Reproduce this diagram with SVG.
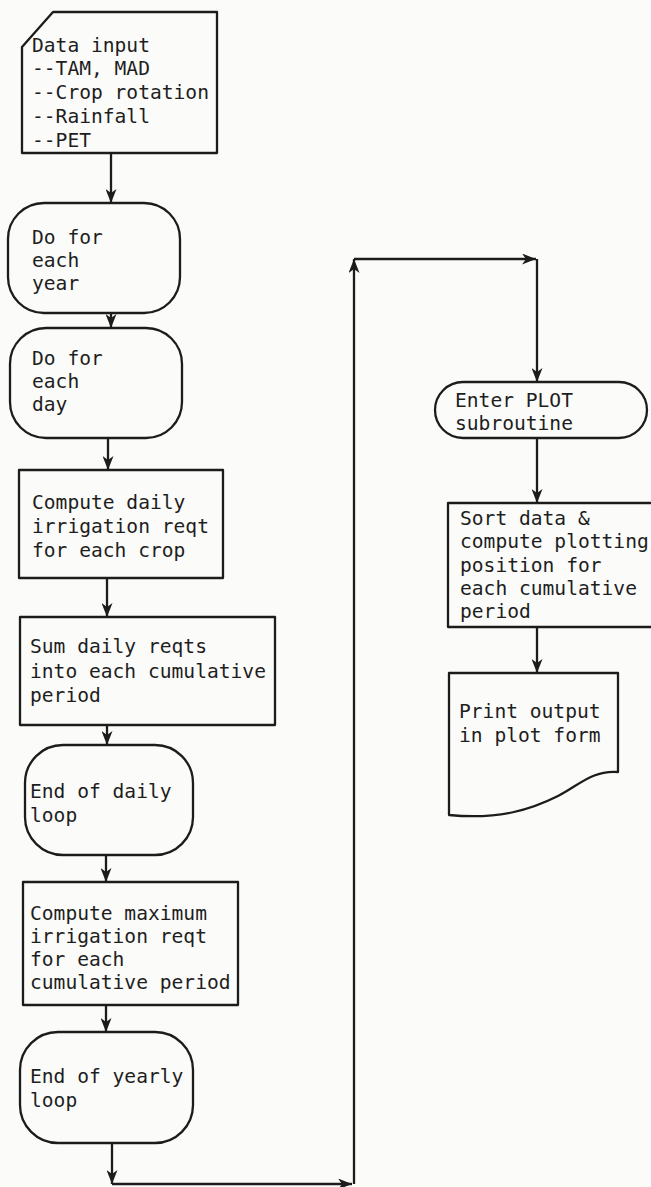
<svg xmlns="http://www.w3.org/2000/svg" width="651" height="1187" viewBox="0 0 651 1187">
  <style>
    .shape { fill: none; stroke: #1c1c1c; stroke-width: 2.3; stroke-linejoin: round; }
    .flow { fill: none; stroke: #1c1c1c; stroke-width: 2.3; marker-end: url(#arrow); }
    text { font-family: "DejaVu Sans Mono", "Liberation Mono", monospace; font-size: 19.6px; fill: #1e1e1e; }
  </style>
  <defs>
    <marker id="arrow" viewBox="0 0 14 11" refX="14" refY="5.5" markerWidth="14" markerHeight="11" markerUnits="userSpaceOnUse" orient="auto">
      <path d="M0,0 L14,5.5 L0,11 L4,5.5 Z" fill="#1c1c1c"/>
    </marker>
  </defs>
  <rect x="0" y="0" width="651" height="1187" fill="#fbfbf9"/>

  <!-- input card -->
  <g id="data-input">
    <path class="shape" d="M53,12 H217 V153 H22 V47 Z"/>
    <text x="32" y="52">Data input</text>
    <text x="32" y="75">--TAM, MAD</text>
    <text x="32" y="99">--Crop rotation</text>
    <text x="32" y="123">--Rainfall</text>
    <text x="32" y="147">--PET</text>
  </g>

  <g id="year-loop-start">
    <rect class="shape" x="8" y="203" width="172" height="110" rx="36" ry="36"/>
    <text x="32" y="244">Do for</text>
    <text x="32" y="267">each</text>
    <text x="32" y="290">year</text>
  </g>

  <g id="day-loop-start">
    <rect class="shape" x="10" y="328" width="172" height="110" rx="36" ry="36"/>
    <text x="32" y="365">Do for</text>
    <text x="32" y="388">each</text>
    <text x="32" y="411">day</text>
  </g>

  <g id="daily-reqt">
    <rect class="shape" x="19" y="470" width="204" height="108"/>
    <text x="32" y="509">Compute daily</text>
    <text x="32" y="533">irrigation reqt</text>
    <text x="32" y="557">for each crop</text>
  </g>

  <g id="sum-reqts">
    <rect class="shape" x="20" y="617" width="255" height="108"/>
    <text x="30" y="653">Sum daily reqts</text>
    <text x="30" y="678">into each cumulative</text>
    <text x="30" y="702">period</text>
  </g>

  <g id="day-loop-end">
    <rect class="shape" x="25" y="745" width="168" height="110" rx="38" ry="38"/>
    <text x="30" y="798">End of daily</text>
    <text x="30" y="822">loop</text>
  </g>

  <g id="max-reqt">
    <rect class="shape" x="23" y="882" width="215" height="123"/>
    <text x="30" y="920">Compute maximum</text>
    <text x="30" y="943">irrigation reqt</text>
    <text x="30" y="966">for each</text>
    <text x="30" y="989">cumulative period</text>
  </g>

  <g id="year-loop-end">
    <rect class="shape" x="20" y="1032" width="173" height="111" rx="38" ry="38"/>
    <text x="30" y="1083">End of yearly</text>
    <text x="30" y="1107">loop</text>
  </g>

  <g id="plot-entry">
    <rect class="shape" x="435" y="382" width="212" height="56" rx="28" ry="28"/>
    <text x="455" y="407">Enter PLOT</text>
    <text x="455" y="430">subroutine</text>
  </g>

  <g id="sort-data">
    <rect class="shape" x="448" y="503" width="206" height="124"/>
    <text x="460" y="525">Sort data &amp;</text>
    <text x="460" y="548">compute plotting</text>
    <text x="460" y="572">position for</text>
    <text x="460" y="595">each cumulative</text>
    <text x="460" y="618">period</text>
  </g>

  <g id="print-output">
    <path class="shape" d="M449,673 H618 V772 C592,770 578,786 558,796 C532,809 500,820 449,815 Z"/>
    <text x="459" y="718">Print output</text>
    <text x="459" y="742">in plot form</text>
  </g>

  <!-- connectors -->
  <g id="connectors">
    <path class="flow" d="M111,153 V203"/>
    <path class="flow" d="M111,313 V328"/>
    <path class="flow" d="M108,438 V470"/>
    <path class="flow" d="M107,578 V617"/>
    <path class="flow" d="M107,725 V745"/>
    <path class="flow" d="M106,855 V882"/>
    <path class="flow" d="M106,1005 V1032"/>
    <path class="flow" d="M112,1143 V1184"/>
    <path class="flow" d="M112,1184 H352"/>
    <path class="flow" d="M354,1184 V259"/>
    <path class="flow" d="M354,259 H536"/>
    <path class="flow" d="M537,259 V382"/>
    <path class="flow" d="M537,438 V503"/>
    <path class="flow" d="M537,627 V673"/>
  </g>
</svg>
